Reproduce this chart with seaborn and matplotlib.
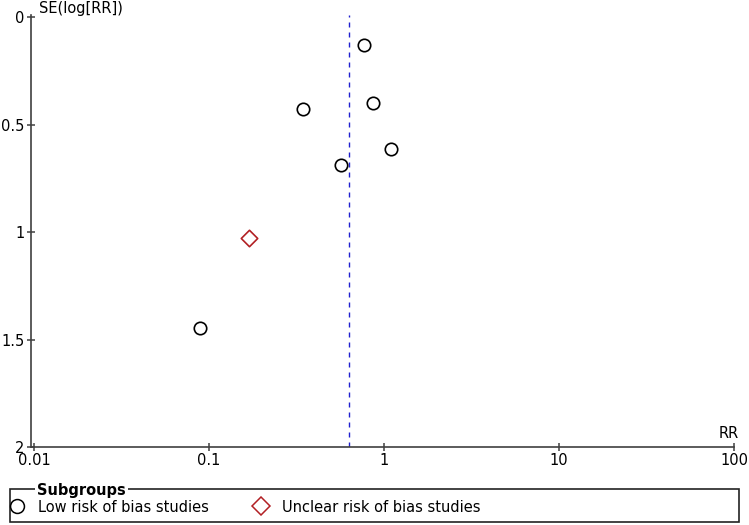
import matplotlib
matplotlib.use("Agg")
import matplotlib.pyplot as plt
from matplotlib.lines import Line2D
from matplotlib.patches import Rectangle
import seaborn as sns
import pandas as pd

# Funnel plot data (RR and SE of log RR)
low_rr = [0.77, 0.344, 0.865, 1.096, 0.568, 0.089]
low_se = [0.130, 0.428, 0.400, 0.614, 0.688, 1.447]
unclear_rr = [0.169]
unclear_se = [1.028]
pooled_rr = 0.631

x_ticks = [0.01, 0.1, 1, 10, 100]
x_labels = ["0.01", "0.1", "1", "10", "100"]
y_ticks = [0, 0.5, 1, 1.5, 2]
y_labels = ["0", "0.5", "1", "1.5", "2"]

low_df = pd.DataFrame({"RR": low_rr, "SE": low_se})
unclear_df = pd.DataFrame({"RR": unclear_rr, "SE": unclear_se})

sns.set_style("white")
plt.rcParams['font.family'] = ['DejaVu Sans']
plt.rcParams['text.color'] = 'black'

W, H = 749, 525
fig = plt.figure(figsize=(W / 100, H / 100), dpi=100)
ax = fig.add_axes([31 / W, 1 - 447 / H, (734 - 31) / W, (447 - 15) / H])

axis_col = "#404040"
red = "#b22024"

ax.axvline(pooled_rr, color="#2020d0", lw=1.0, ls=(0, (3.6, 3.6)), zorder=1)

sns.scatterplot(data=low_df, x="RR", y="SE", marker="o", s=80,
                facecolor="white", edgecolor="black", linewidth=1.2, ax=ax, zorder=3)
sns.scatterplot(data=unclear_df, x="RR", y="SE", marker="D", s=70,
                facecolor="white", edgecolor=red, linewidth=1.2, ax=ax, zorder=3)

ax.set_xscale("log")
ax.set_xlim(10 ** (-2 - 3 / 175), 100)
ax.set_ylim(2, -0.01)
ax.set_xticks(x_ticks)
ax.set_xticklabels(x_labels)
ax.minorticks_off()
ax.set_yticks(y_ticks)
ax.set_yticklabels(y_labels)
ax.set_xlabel("")
ax.set_ylabel("")

for s in ["top", "right"]:
    ax.spines[s].set_visible(False)
for s in ["left", "bottom"]:
    ax.spines[s].set_color(axis_col)
    ax.spines[s].set_linewidth(1.2)
ax.tick_params(axis="both", direction="inout", length=5.5, width=1.1,
               color=axis_col, labelsize=10.5, labelcolor="black",
               bottom=True, left=True)
ax.tick_params(axis="x", pad=1.5)
ax.tick_params(axis="y", pad=2)

fig.text(39 / W, 1 - 0.5 / H, "SE(log[RR])", fontsize=10.5, ha="left", va="top")
fig.text(739 / W, 1 - 441 / H, "RR", fontsize=10.5, ha="right", va="bottom")

# legend box with the title sitting on its top border
fig.patches.append(Rectangle((10 / W, 1 - 522 / H), 729 / W, 33 / H,
                             transform=fig.transFigure, fill=False,
                             edgecolor="#222222", lw=1.2))
fig.text(37 / W, 1 - 490 / H, "Subgroups", fontsize=10.5, fontweight="bold",
         ha="left", va="center",
         bbox=dict(facecolor="white", edgecolor="none", pad=1.5))

handles = [
    Line2D([], [], marker="o", ls="none", markersize=10, markerfacecolor="white",
           markeredgecolor="black", markeredgewidth=1.1),
    Line2D([], [], marker="D", ls="none", markersize=9, markerfacecolor="white",
           markeredgecolor=red, markeredgewidth=1.1),
]
fig.legend(handles, ["Low risk of bias studies", "Unclear risk of bias studies"],
           loc="center left", bbox_to_anchor=(10 / W, 1 - 507 / H), ncol=2,
           frameon=False, fontsize=10.5, handlelength=1.0, handletextpad=0.9,
           columnspacing=3.1, borderaxespad=0, borderpad=0)

fig.savefig("out.png", dpi=100)
